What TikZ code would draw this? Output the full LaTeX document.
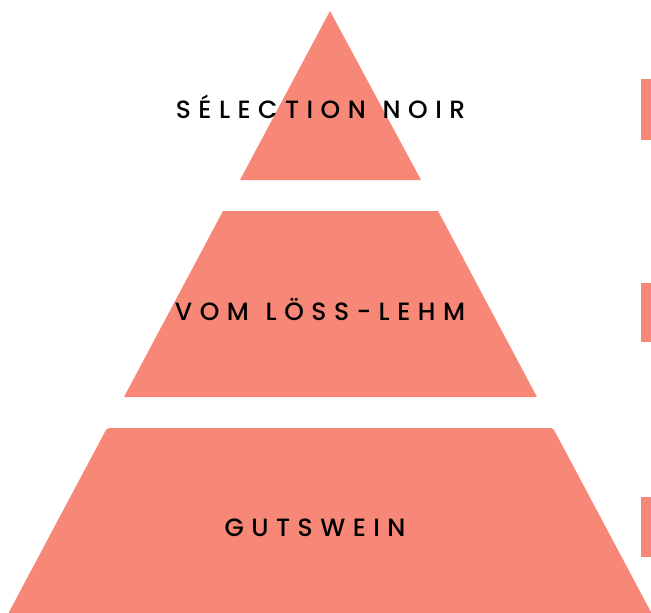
\documentclass[tikz,border=0pt]{standalone}
\usepackage{fontspec}
\setmainfont{Poppins}[UprightFont=* Medium]
\newfontfamily\tierfont{Poppins}[UprightFont=* Medium,LetterSpace=30,WordSpace=1.2]
\definecolor{salmonfill}{RGB}{247,135,119}
\begin{document}
\begin{tikzpicture}[x=1pt,y=-1pt,tier/.style={fill=salmonfill},label node/.style={font=\tierfont\fontsize{25}{25}\selectfont,text=black,inner sep=0,anchor=base}]
        \useasboundingbox (0,0) rectangle (651,613);
        \fill[tier] (330,11) -- (421,180) -- (240,180) -- cycle;
        \fill[tier] (223,211) -- (438,211) -- (537,397) -- (124,397) -- cycle;
        \fill[tier, rounded corners=2] (107,428) -- (553,428) -- (652,614) -- (8,614) -- cycle;
        \fill[tier] (641,79) rectangle (652,140);
        \fill[tier] (641,283) rectangle (652,342);
        \fill[tier] (641,497) rectangle (652,557);

        \node[label node] at (320.5,118.3) (top) {SÉLECTION NOIR};
        \node[label node] at (320,320.3) (mid) {VOM LÖSS-LEHM};
        \node[label node] at (315,536.3) (base) {GUTSWEIN};
\end{tikzpicture}
\end{document}
